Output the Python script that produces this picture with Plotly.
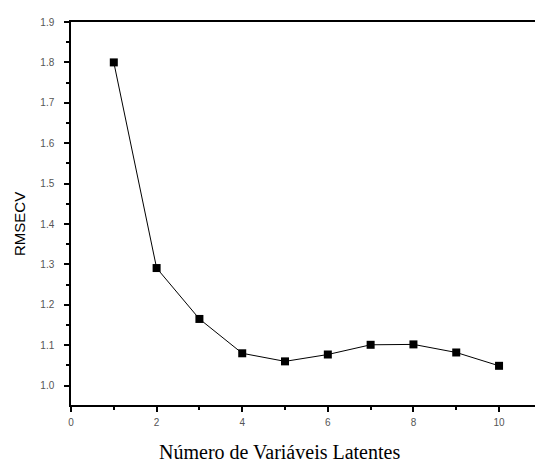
import plotly.graph_objects as go

n_lv = [1, 2, 3, 4, 5, 6, 7, 8, 9, 10]
rmsecv = [1.800, 1.291, 1.165, 1.080, 1.060, 1.077, 1.101, 1.102, 1.082, 1.049]
x_ticks = [0, 2, 4, 6, 8, 10]
y_ticks = [1.0, 1.1, 1.2, 1.3, 1.4, 1.5, 1.6, 1.7, 1.8, 1.9]
y_ticktext = ["1.0", "1.1", "1.2", "1.3", "1.4", "1.5", "1.6", "1.7", "1.8", "1.9"]

fig = go.Figure()
fig.add_trace(go.Scatter(
    x=n_lv, y=rmsecv, mode="lines+markers",
    line=dict(color="black", width=1),
    marker=dict(symbol="square", size=8, color="black"),
    showlegend=False,
))

tickfont = dict(family="Liberation Sans, Arial", size=10, color="#555555")
fig.update_layout(
    width=535, height=466,
    margin=dict(l=71, r=0, t=22, b=61),
    paper_bgcolor="white", plot_bgcolor="white",
    xaxis=dict(
        range=[0, 10.84], tickmode="array", tickvals=x_ticks,
        ticks="outside", ticklen=5, tickwidth=1.5, tickcolor="black",
        minor=dict(tickvals=[1, 3, 5, 7, 9], ticks="outside", ticklen=3, tickwidth=1.5, tickcolor="black"),
        showline=True, linecolor="black", linewidth=1.5, mirror=True,
        showgrid=False, zeroline=False, tickfont=tickfont, ticklabelstandoff=2,
    ),
    yaxis=dict(
        range=[0.952, 1.9], tickmode="array",
        tickvals=y_ticks, ticktext=y_ticktext,
        ticks="outside", ticklen=5, tickwidth=1.5, tickcolor="black",
        minor=dict(tickvals=[0.95, 1.05, 1.15, 1.25, 1.35, 1.45, 1.55, 1.65, 1.75, 1.85],
                   ticks="outside", ticklen=3, tickwidth=1.5, tickcolor="black"),
        showline=True, linecolor="black", linewidth=1.5, mirror=False,
        showgrid=False, zeroline=False, tickfont=tickfont, ticklabelstandoff=8,
    ),
    annotations=[
        dict(text="Número de Variáveis Latentes", xref="paper", yref="paper",
             x=0.45, y=0, xanchor="center", yanchor="middle", yshift=-47, showarrow=False,
             font=dict(family="Liberation Serif, Times New Roman", size=20, color="black")),
        dict(text="RMSECV", xref="paper", yref="paper",
             x=0, y=0.4726, xanchor="center", yanchor="middle", xshift=-51, textangle=-90,
             showarrow=False,
             font=dict(family="Liberation Sans, Arial", size=15, color="black")),
    ],
)
fig.write_html("out.html", config={"displayModeBar": False},
               post_script="document.body.style.margin='0';document.body.style.overflow='hidden';")
